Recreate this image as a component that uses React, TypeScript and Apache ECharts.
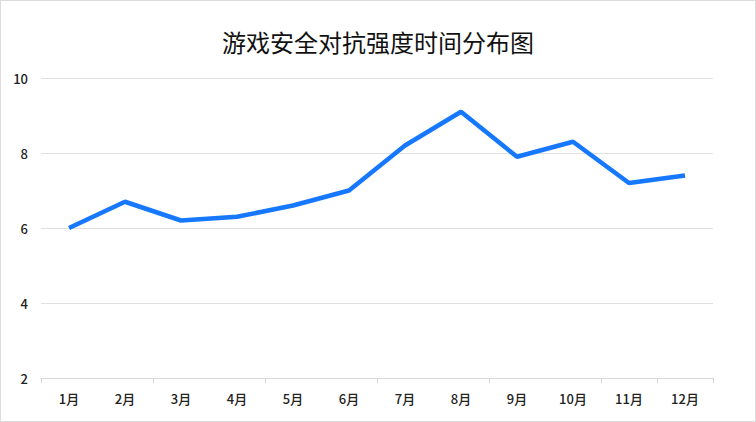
import React, { useEffect, useRef } from "react";
import * as echarts from "echarts";

const title = "游戏安全对抗强度时间分布图";
const months = ["1月", "2月", "3月", "4月", "5月", "6月", "7月", "8月", "9月", "10月", "11月", "12月"];
const intensity = [6.0, 6.7, 6.2, 6.3, 6.6, 7.0, 8.2, 9.1, 7.9, 8.3, 7.2, 7.4];
const yMin = 2;
const yMax = 10;
const yInterval = 2;

export default function App() {
  const ref = useRef<HTMLDivElement>(null);
  useEffect(() => {
    if (!ref.current) return;
    const chart = echarts.init(ref.current, undefined, { renderer: "svg" });
    const font = "'Noto Sans CJK SC', 'Noto Sans', sans-serif";
    chart.setOption({
      animation: false,
      backgroundColor: "#ffffff",
      textStyle: { fontFamily: font },
      title: {
        text: title,
        left: "center",
        top: 23,
        textStyle: { fontSize: 24, fontWeight: "normal", color: "#111", fontFamily: font },
      },
      grid: { left: 40, right: 42, top: 77, bottom: 43 },
      xAxis: {
        type: "category",
        data: months,
        boundaryGap: true,
        axisLine: { lineStyle: { color: "#d9d9d9" } },
        axisTick: { show: true, interval: 1, length: 5, lineStyle: { color: "#d9d9d9" } },
        axisLabel: { color: "#222", fontSize: 13, fontWeight: 500, margin: 14, interval: 0, fontFamily: font },
      },
      yAxis: {
        type: "value",
        min: yMin,
        max: yMax,
        interval: yInterval,
        axisLine: { show: false },
        axisTick: { show: false },
        axisLabel: { color: "#222", fontSize: 13, fontWeight: 500, margin: 13, fontFamily: font },
        splitLine: { lineStyle: { color: "#e0e0e0" } },
      },
      series: [
        {
          type: "line",
          data: intensity,
          showSymbol: false,
          symbol: "none",
          lineStyle: { color: "#1677ff", width: 4.5 },
          itemStyle: { color: "#1677ff" },
        },
      ],
    });
    return () => chart.dispose();
  }, []);
  return (
    <div
      style={{
        position: "absolute",
        left: 0,
        top: 0,
        width: 756,
        height: 422,
        boxSizing: "border-box",
        border: "1px solid #dcdcdc",
        background: "#fff",
      }}
    >
      <div ref={ref} style={{ width: 754, height: 420 }} />
    </div>
  );
}
